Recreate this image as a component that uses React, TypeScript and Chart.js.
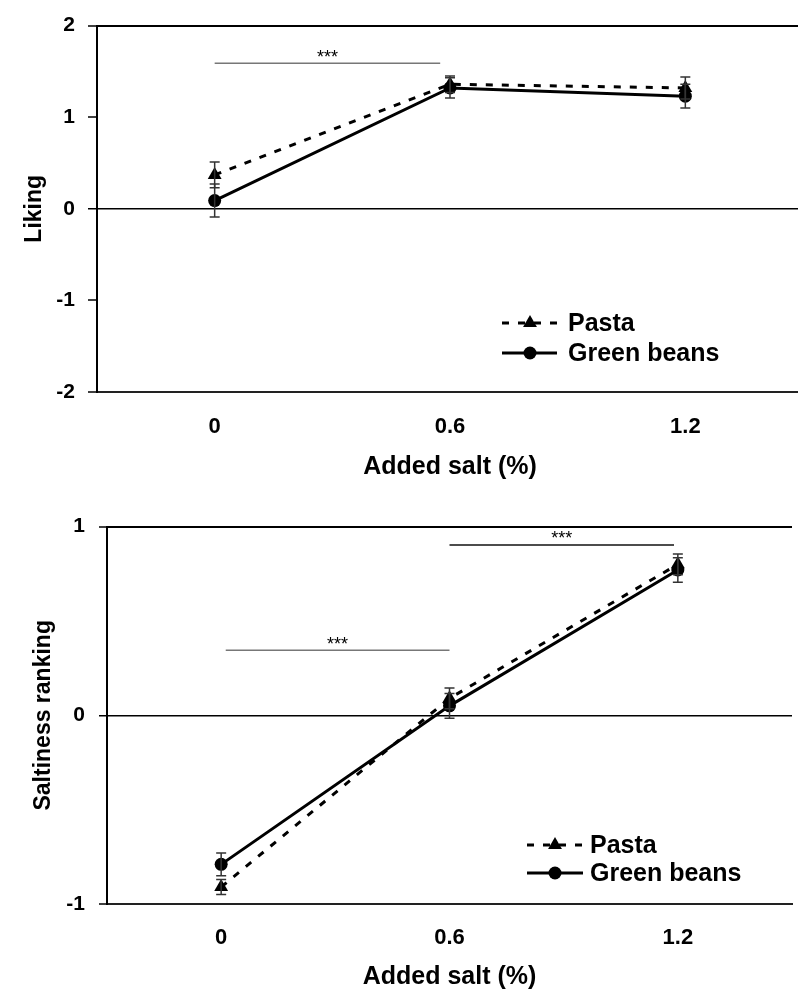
import React, { useEffect, useRef } from "react";
import { Chart, registerables } from "chart.js";

Chart.register(...registerables);

// ---------- data ----------
const saltLevels = [0, 0.6, 1.2];
const saltLabels = ["0", "0.6", "1.2"];

// Panel A – Liking
const likingTicks = [-2, -1, 0, 1, 2];
const likingPasta = [0.37, 1.36, 1.32];
const likingPastaErr = [0.14, 0.09, 0.12];
const likingBeans = [0.09, 1.32, 1.23];
const likingBeansErr = [0.18, 0.11, 0.13];
const likingSigFrom = [0];
const likingSigTo = [0.575];
const likingSigY = [1.59];
const likingSigText = ["***"];

// Panel B – Saltiness ranking
const rankTicks = [-1, 0, 1];
const rankPasta = [-0.91, 0.09, 0.8];
const rankPastaErr = [0.04, 0.055, 0.055];
const rankBeans = [-0.79, 0.05, 0.77];
const rankBeansErr = [0.06, 0.065, 0.065];
const rankSigFrom = [0.012, 0.6];
const rankSigTo = [0.6, 1.19];
const rankSigY = [0.345, 0.903];
const rankSigText = ["***", "***"];

const FONT = '"Liberation Sans", Arial, Helvetica, sans-serif';

type PanelProps = {
  top: number;
  width: number;
  height: number;
  yTitle: string;
  yTicks: number[];
  pasta: number[];
  pastaErr: number[];
  beans: number[];
  beansErr: number[];
  sigFrom: number[];
  sigTo: number[];
  sigY: number[];
  sigText: string[];
  sigColors: string[];
  geom: {
    yWidth: number;
    yTitlePad: number;
    yTickLen: number;
    yTickPad: number;
    padTop: number;
    padBottom: number;
    xHeight: number;
    xTickPad: number;
    legendLine0: number;
    legendLine1: number;
    legendMarker: number;
    legendText: number;
    legendY0: number;
    legendGap: number;
  };
};

const decorPlugin = {
  id: "decor",
  afterDatasetsDraw(chart: any, _args: any, opts: any) {
    const { ctx } = chart;
    const x = chart.scales.x;
    const y = chart.scales.y;
    ctx.save();
    // error bars
    chart.data.datasets.forEach((ds: any) => {
      if (!ds.errors) return;
      ds.data.forEach((p: any, i: number) => {
        const e = ds.errors[i];
        const px = x.getPixelForValue(p.x);
        const t = y.getPixelForValue(p.y + e);
        const b = y.getPixelForValue(p.y - e);
        ctx.strokeStyle = "#333";
        ctx.lineWidth = 1.5;
        ctx.setLineDash([]);
        ctx.beginPath();
        ctx.moveTo(px, t);
        ctx.lineTo(px, b);
        ctx.moveTo(px - 5, t);
        ctx.lineTo(px + 5, t);
        ctx.moveTo(px - 5, b);
        ctx.lineTo(px + 5, b);
        ctx.stroke();
      });
    });
    // significance stars
    (opts.sig || []).forEach((s: any) => {
      const cx = x.getPixelForValue((s.from + s.to) / 2);
      const cy = y.getPixelForValue(s.y);
      ctx.fillStyle = "#000";
      ctx.font = `18px ${FONT}`;
      ctx.textAlign = "center";
      ctx.textBaseline = "alphabetic";
      ctx.fillText(s.text, cx, cy - 0.5);
    });
    // legend
    const lg = opts.legend;
    if (lg) {
      let row = 0;
      chart.data.datasets.forEach((ds: any) => {
        if (!ds.label) return;
        const ly = lg.y0 + row * lg.gap;
        row++;
        ctx.strokeStyle = ds.borderColor;
        ctx.lineWidth = ds.borderWidth;
        ctx.setLineDash(ds.borderDash || []);
        ctx.beginPath();
        ctx.moveTo(lg.line0, ly);
        ctx.lineTo(lg.line1, ly);
        ctx.stroke();
        ctx.setLineDash([]);
        ctx.fillStyle = ds.pointBackgroundColor;
        const r = ds.pointRadius;
        ctx.beginPath();
        if (ds.pointStyle === "triangle") {
          ctx.moveTo(lg.marker, ly - r);
          ctx.lineTo(lg.marker + r * 0.866, ly + r * 0.5);
          ctx.lineTo(lg.marker - r * 0.866, ly + r * 0.5);
          ctx.closePath();
        } else {
          ctx.arc(lg.marker, ly, r, 0, Math.PI * 2);
        }
        ctx.fill();
        ctx.fillStyle = "#000";
        ctx.font = `bold 25px ${FONT}`;
        ctx.textAlign = "left";
        ctx.textBaseline = "middle";
        ctx.fillText(ds.label, lg.text, ly + 1);
      });
    }
    ctx.restore();
  },
};

function Panel(props: PanelProps) {
  const ref = useRef<HTMLCanvasElement>(null);
  useEffect(() => {
    const g = props.geom;
    const yMax = props.yTicks[props.yTicks.length - 1];
    const yMin = props.yTicks[0];
    const chart = new Chart(ref.current as HTMLCanvasElement, {
      type: "line",
      data: {
        datasets: [
          {
            label: "Pasta",
            data: saltLevels.map((v, i) => ({ x: v, y: props.pasta[i] })),
            errors: props.pastaErr,
            borderColor: "#000",
            backgroundColor: "#000",
            pointBackgroundColor: "#000",
            pointBorderColor: "#000",
            borderWidth: 3,
            borderDash: [7, 9],
            pointStyle: "triangle",
            pointRadius: 8,
            pointBorderWidth: 0,
            tension: 0,
          } as any,
          {
            label: "Green beans",
            data: saltLevels.map((v, i) => ({ x: v, y: props.beans[i] })),
            errors: props.beansErr,
            borderColor: "#000",
            backgroundColor: "#000",
            pointBackgroundColor: "#000",
            pointBorderColor: "#000",
            borderWidth: 3,
            borderDash: [],
            pointStyle: "circle",
            pointRadius: 6.5,
            pointBorderWidth: 0,
            tension: 0,
          } as any,
          ...props.sigFrom.map((f, i) => ({
            label: "",
            data: [
              { x: f, y: props.sigY[i] },
              { x: props.sigTo[i], y: props.sigY[i] },
            ],
            borderColor: props.sigColors[i],
            borderWidth: 1.5,
            pointRadius: 0,
          })),
        ],
      },
      options: {
        animation: false,
        responsive: false,
        events: [],
        layout: {
          padding: { top: g.padTop, bottom: g.padBottom, left: 0, right: 0 },
        },
        plugins: {
          legend: { display: false },
          tooltip: { enabled: false },
          decor: {
            sig: props.sigFrom.map((f, i) => ({
              from: f,
              to: props.sigTo[i],
              y: props.sigY[i],
              text: props.sigText[i],
            })),
            legend: {
              line0: g.legendLine0,
              line1: g.legendLine1,
              marker: g.legendMarker,
              text: g.legendText,
              y0: g.legendY0,
              gap: g.legendGap,
            },
          },
        } as any,
        scales: {
          x: {
            type: "linear",
            min: -0.3,
            max: 1.5,
            afterBuildTicks: (s: any) => {
              s.ticks = saltLevels.map((v) => ({ value: v }));
            },
            afterFit: (s: any) => {
              s.height = g.xHeight;
            },
            ticks: {
              callback: (_v: any, i: number) => saltLabels[i],
              font: { family: FONT, size: 22, weight: "bold" },
              color: "#000",
              padding: g.xTickPad,
              maxRotation: 0,
            },
            grid: { display: false, drawTicks: false },
            border: { display: true, color: "#222", width: 2 },
            title: {
              display: true,
              text: "Added salt (%)",
              font: { family: FONT, size: 25, weight: "bold" },
              color: "#000",
              padding: { top: 0, bottom: 0 },
            },
          },
          y: {
            type: "linear",
            min: yMin,
            max: yMax,
            afterBuildTicks: (s: any) => {
              s.ticks = props.yTicks.map((v) => ({ value: v }));
            },
            afterFit: (s: any) => {
              s.width = g.yWidth;
            },
            ticks: {
              callback: (v: any) => String(v),
              font: { family: FONT, size: 21, weight: "bold" },
              color: "#000",
              padding: g.yTickPad,
            },
            grid: {
              color: (c: any) =>
                c.tick && (c.tick.value === 0 || c.tick.value === yMax)
                  ? "#000"
                  : "rgba(0,0,0,0)",
              lineWidth: (c: any) => (c.tick && c.tick.value === 0 ? 1.5 : 2),
              drawTicks: true,
              tickLength: g.yTickLen,
              tickColor: "#000",
              tickWidth: 1.5,
            },
            border: { display: true, color: "#000", width: 2 },
            title: {
              display: true,
              text: props.yTitle,
              font: { family: FONT, size: 23, weight: "bold" },
              color: "#000",
              padding: { top: g.yTitlePad, bottom: 0 },
            },
          },
        },
      } as any,
      plugins: [decorPlugin],
    });
    return () => chart.destroy();
  }, []);
  return (
    <div
      style={{
        position: "absolute",
        left: 0,
        top: props.top,
        width: props.width,
        height: props.height,
      }}
    >
      <canvas
        ref={ref}
        width={props.width}
        height={props.height}
        style={{ display: "block" }}
      />
    </div>
  );
}

export default function App() {
  return (
    <div
      style={{
        position: "fixed",
        left: 0,
        top: 0,
        width: 798,
        height: 990,
        overflow: "hidden",
        background: "#fff",
      }}
    >
      <Panel
        top={0}
        width={811}
        height={500}
        yTitle="Liking"
        yTicks={likingTicks}
        pasta={likingPasta}
        pastaErr={likingPastaErr}
        beans={likingBeans}
        beansErr={likingBeansErr}
        sigFrom={likingSigFrom}
        sigTo={likingSigTo}
        sigY={likingSigY}
        sigText={likingSigText}
        sigColors={["#777"]}
        geom={{
          yWidth: 97,
          yTitlePad: 21,
          yTickLen: 9,
          yTickPad: 13,
          padTop: 24,
          padBottom: 18,
          xHeight: 90,
          xTickPad: 22,
          legendLine0: 502,
          legendLine1: 557,
          legendMarker: 530,
          legendText: 568,
          legendY0: 323,
          legendGap: 30,
        }}
      />
      <Panel
        top={500}
        width={800}
        height={500}
        yTitle="Saltiness ranking"
        yTicks={rankTicks}
        pasta={rankPasta}
        pastaErr={rankPastaErr}
        beans={rankBeans}
        beansErr={rankBeansErr}
        sigFrom={rankSigFrom}
        sigTo={rankSigTo}
        sigY={rankSigY}
        sigText={rankSigText}
        sigColors={["#777", "#111"]}
        geom={{
          yWidth: 107,
          yTitlePad: 30,
          yTickLen: 8,
          yTickPad: 14,
          padTop: 21,
          padBottom: 8,
          xHeight: 88,
          xTickPad: 20.4,
          legendLine0: 527,
          legendLine1: 583,
          legendMarker: 555,
          legendText: 590,
          legendY0: 345,
          legendGap: 28,
        }}
      />
    </div>
  );
}
